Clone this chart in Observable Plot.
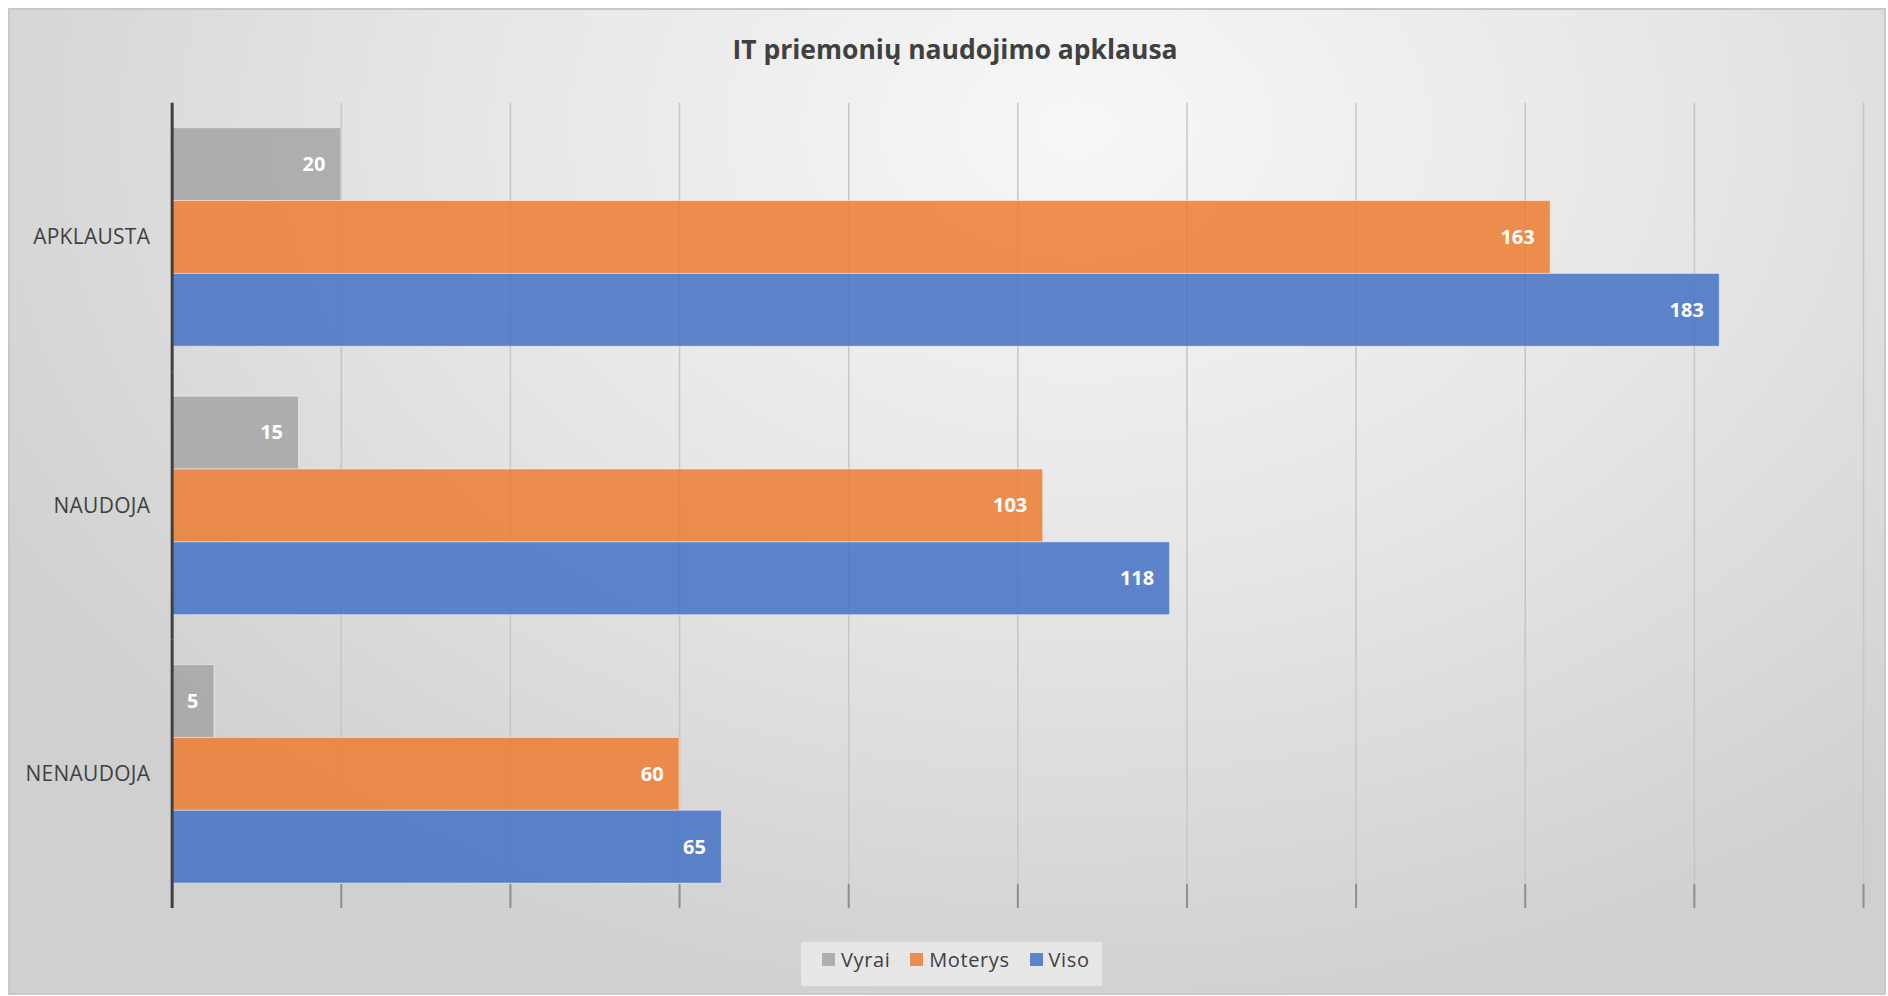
<!DOCTYPE html>
<html>
<head>
<meta charset="utf-8">
<script src="https://cdn.jsdelivr.net/npm/d3@7"></script>
<script src="https://cdn.jsdelivr.net/npm/@observablehq/plot@0.6"></script>
<style>
  html, body { margin: 0; padding: 0; background: #ffffff; }
  #frame {
    position: absolute; left: 8px; top: 8px; width: 1878px; height: 987px;
    border: 2px solid #c8c8c8; box-sizing: border-box;
    background: radial-gradient(ellipse 1250px 900px at 57% 12%, #f7f7f7 0%, #e6e6e6 50%, #d0d0d0 100%);
    overflow: hidden;
  }
  #title {
    position: absolute; left: 8px; top: 22px; width: 100%; text-align: center;
    font-family: "Open Sans", sans-serif; font-weight: 700; font-size: 26.5px; line-height: 34px;
    color: #404040;
  }
  #chart { position: absolute; left: -10px; top: -10px; }
  #chart svg g[aria-label="fy-axis"] text, #chart svg g[aria-label="fy-axis tick label"] text { font-size: 21px; letter-spacing: 0.3px; }
  #legendbox {
    position: absolute; left: 791px; top: 932px; height: 44px; padding: 0 12px 0 21px;
    background: #e7e7e7; display: flex; align-items: center;
  }
  .lg-swatches { font-family: "Open Sans", sans-serif !important; font-size: 20px !important; color: #404040 !important; }
  .lg-swatch { margin-right: 20px !important; letter-spacing: 0.6px; }
  .lg-swatch:last-child { margin-right: 0 !important; }
  .lg-swatch > svg { margin-right: 6px !important; opacity: 0.85; }
</style>
</head>
<body>
<div id="frame">
  <div id="title">IT priemonių naudojimo apklausa</div>
  <div id="chart"></div>
  <div id="legendbox"></div>
</div>
<script>
// ---- data ----
const categories = ["APKLAUSTA", "NAUDOJA", "NENAUDOJA"];
const series = ["Vyrai", "Moterys", "Viso"];
const vyrai = [20, 15, 5];
const moterys = [163, 103, 60];
const viso = [183, 118, 65];
const xTicks = [20, 40, 60, 80, 100, 120, 140, 160, 180, 200];
const colors = ["#a5a5a5", "#ed7d31", "#4472c4"];

const seriesValues = [vyrai, moterys, viso];
const data = categories.flatMap((c, i) =>
  series.map((s, j) => ({category: c, series: s, value: seriesValues[j][i]}))
);

// ---- layout (styles) ----
const W = 1888, H = 930, mt = 102, mb = 20, ml = 172, mr = 21;
const padOuter = 0.332;
const facetH = (H - mt - mb) / categories.length;
const bottomPad = facetH * padOuter / (series.length + 2 * padOuter);

const chart = Plot.plot({
  width: W,
  height: H,
  marginLeft: ml,
  marginRight: mr,
  marginTop: mt,
  marginBottom: mb,
  x: {domain: [0, 200], axis: null},
  y: {domain: series, axis: null, paddingInner: 0, paddingOuter: padOuter},
  fy: {domain: categories, padding: 0, label: null, axis: "left", tickSize: 0, tickPadding: 22},
  color: {domain: series, range: colors},
  style: {background: "transparent", fontFamily: "Open Sans, sans-serif", fontSize: "21px", color: "#404040", overflow: "visible"},
  marks: [
    Plot.ruleX(xTicks, {stroke: "#c6c6c6", strokeWidth: 1.5}),
    Plot.ruleX(xTicks.map(x => ({x, category: categories[categories.length - 1]})),
      {x: "x", fy: "category", stroke: "#8e8e8e", strokeWidth: 2, insetTop: facetH - bottomPad}),
    Plot.barX(data, {
      x: "value", y: "series", fy: "category", fill: "series",
      fillOpacity: 0.85, stroke: "#ffffff", strokeOpacity: 0.45, strokeWidth: 1
    }),
    Plot.ruleX([0], {stroke: "#404040", strokeWidth: 3}),
    Plot.text(data, {
      x: "value", y: "series", fy: "category", text: d => String(d.value),
      textAnchor: "end", dx: -16, fill: "white", fontWeight: "bold", fontSize: 20
    })
  ]
});
document.getElementById("chart").appendChild(chart);

const legend = Plot.legend({
  color: {domain: series, range: colors},
  legend: "swatches",
  swatchSize: 13,
  className: "lg"
});
document.getElementById("legendbox").appendChild(legend);
</script>
</body>
</html>
